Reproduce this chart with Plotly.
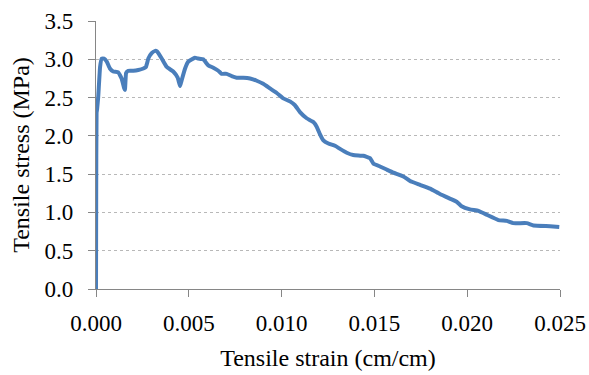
import plotly.graph_objects as go

strain = [0.0, 0.00001, 0.00003, 0.00006, 0.00012, 0.00022, 0.00031, 0.00043, 0.00058, 0.00075,
          0.00093, 0.00120, 0.00138, 0.00152, 0.00156, 0.00162, 0.00174, 0.00201, 0.00228, 0.00255,
          0.00269, 0.00282, 0.00300, 0.00318, 0.00330, 0.00354, 0.00381, 0.00416, 0.00440, 0.00453,
          0.00462, 0.00480, 0.00497, 0.00533, 0.00551, 0.00578, 0.00605, 0.00632, 0.00659, 0.00677,
          0.00704, 0.00731, 0.00758, 0.00794, 0.00830, 0.00866, 0.00901, 0.00937, 0.00974, 0.01009,
          0.01045, 0.01072, 0.01099, 0.01135, 0.01171, 0.01189, 0.01207, 0.01225, 0.01252, 0.01288,
          0.01315, 0.01351, 0.01386, 0.01440, 0.01476, 0.01494, 0.01530, 0.01566, 0.01602, 0.01656,
          0.01692, 0.01746, 0.01800, 0.01853, 0.01907, 0.01943, 0.01970, 0.02015, 0.02060, 0.02105,
          0.02168, 0.02213, 0.02248, 0.02321, 0.02357, 0.02446, 0.02496]
stress = [0.0, 1.2, 2.3, 2.35, 2.51, 2.90, 3.01, 3.01, 2.97, 2.88,
          2.84, 2.83, 2.75, 2.62, 2.60, 2.82, 2.85, 2.85, 2.86, 2.88,
          2.90, 3.01, 3.08, 3.11, 3.10, 3.01, 2.90, 2.84, 2.76, 2.65,
          2.73, 2.88, 2.97, 3.02, 3.01, 3.00, 2.92, 2.89, 2.85, 2.81,
          2.81, 2.78, 2.76, 2.76, 2.75, 2.72, 2.68, 2.62, 2.56, 2.49,
          2.45, 2.40, 2.31, 2.23, 2.18, 2.12, 2.02, 1.94, 1.90, 1.87,
          1.83, 1.78, 1.75, 1.74, 1.71, 1.64, 1.60, 1.56, 1.52, 1.47,
          1.41, 1.36, 1.31, 1.24, 1.18, 1.14, 1.08, 1.04, 1.02, 0.97,
          0.90, 0.89, 0.86, 0.86, 0.83, 0.82, 0.81]

x_ticks = [0.000, 0.005, 0.010, 0.015, 0.020, 0.025]
y_ticks = [0.0, 0.5, 1.0, 1.5, 2.0, 2.5, 3.0, 3.5]

font = dict(family="Liberation Serif, Times New Roman, serif", size=23, color="#000000")
title_font = dict(family="Liberation Serif, Times New Roman, serif", size=24, color="#000000")

fig = go.Figure()
fig.add_trace(go.Scatter(x=strain, y=stress, mode="lines",
                         line=dict(color="#4a7ebb", width=4, shape="spline", smoothing=0.3),
                         showlegend=False, hoverinfo="skip"))

fig.update_layout(
    width=589, height=375,
    margin=dict(l=96, r=29, t=21, b=86),
    paper_bgcolor="white", plot_bgcolor="white",
    font=font,
)
fig.update_xaxes(
    range=[0, 0.025], tickvals=x_ticks, ticktext=[f"{v:.3f}" for v in x_ticks],
    showgrid=False, zeroline=False, showline=True, linecolor="#868686", linewidth=1.2,
    ticks="outside", ticklen=7, tickcolor="#868686", tickwidth=1.2,
    ticklabelstandoff=6, automargin=False,
    title=dict(text="Tensile strain (cm/cm)", font=title_font, standoff=14),
    tickfont=font,
)
fig.update_yaxes(
    range=[0, 3.5], tickvals=y_ticks, ticktext=[f"{v:.1f}" for v in y_ticks],
    showgrid=True, gridcolor="#b8b8b8", griddash="dot", gridwidth=1,
    zeroline=False, showline=True, linecolor="#868686", linewidth=1.2,
    ticks="outside", ticklen=7, tickcolor="#868686", tickwidth=1.2,
    ticklabelstandoff=10, automargin=False,
    title=dict(text="Tensile stress (MPa)", font=title_font, standoff=8),
    tickfont=font,
)

fig.write_html("out.html")
